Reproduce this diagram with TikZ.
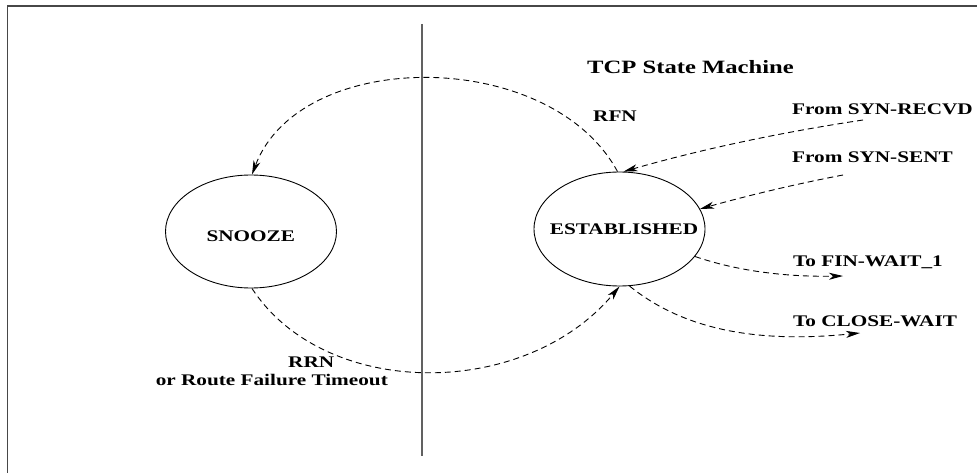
\documentclass[tikz,border=0pt]{standalone}
\usepackage{fontspec}
\usetikzlibrary{shapes.geometric,arrows.meta}
\newfontfamily\lblfont{Liberation Serif}[FakeStretch=1.31, UprightFont={* Bold}]
\tikzset{
  lbl/.style={font=\lblfont\fontsize{16.2}{18}\selectfont, inner sep=0pt},
  ttl/.style={font=\lblfont\fontsize{18.8}{20}\selectfont, inner sep=0pt},
  stateell/.style={ellipse, draw, line width=0.9pt, minimum width=171pt, minimum height=113pt, inner sep=0pt},
  trans/.style={dash pattern=on 6pt off 4pt, line width=0.9pt, -{Stealth[length=14pt,width=7pt,inset=4pt]}},
  rule/.style={line width=1.8pt, color=black!62}
}
\begin{document}
\begin{tikzpicture}[x=1pt,y=-1pt]
\useasboundingbox (0,0) rectangle (977,473);
% frame and divider
\draw[line width=1.8pt, color=black!72] (977,6) -- (7.5,6) -- (7.5,473);
\draw[rule] (422,24) -- (422,456);
% states
\node[stateell] (sn) at (251,231.5) {};
\node[stateell, minimum height=114pt] (est) at (619.5,229) {};
\node[lbl, anchor=base] (sntext) at (250.8,241.7) {SNOOZE};
\node[lbl, anchor=base] (esttext) at (624,235) {ESTABLISHED};
% free ends
\coordinate (rs) at (863,120);
\coordinate (ss) at (843,175);
\coordinate (fw) at (843,276);
\coordinate (cw) at (860,333);
% transitions
\draw[trans] (est.92) .. controls (550,47) and (300,47) .. (sn.89);
\draw[trans] (sn.-89) .. controls (325,400) and (525,400) .. (est.-90);
\draw[trans] (rs) .. controls (783,132) and (702,149) .. (est.86);
\draw[trans] (ss) .. controls (796,184) and (750,195) .. (est.14);
\draw[trans] (est.-20) .. controls (740,272) and (790,277) .. (fw);
\draw[trans] (est.-80) .. controls (690,335) and (770,342) .. (cw);
% labels
\node[ttl, anchor=base west] (title) at (587,73.5) {TCP State Machine};
\node[lbl, anchor=base west] (rfn) at (593,121.7) {RFN};
\node[lbl, anchor=base west] (lrs) at (792,115) {From SYN-RECVD};
\node[lbl, anchor=base west] (lss) at (792,163) {From SYN-SENT};
\node[lbl, anchor=base west] (lfw) at (793,266) {To FIN-WAIT\_1};
\node[lbl, anchor=base west] (lcw) at (793,326) {To CLOSE-WAIT};
\node[lbl, anchor=base west] (rrn) at (288,367) {RRN};
\node[lbl, anchor=base east] (rft) at (388,385) {or Route Failure Timeout};
\end{tikzpicture}
\end{document}
